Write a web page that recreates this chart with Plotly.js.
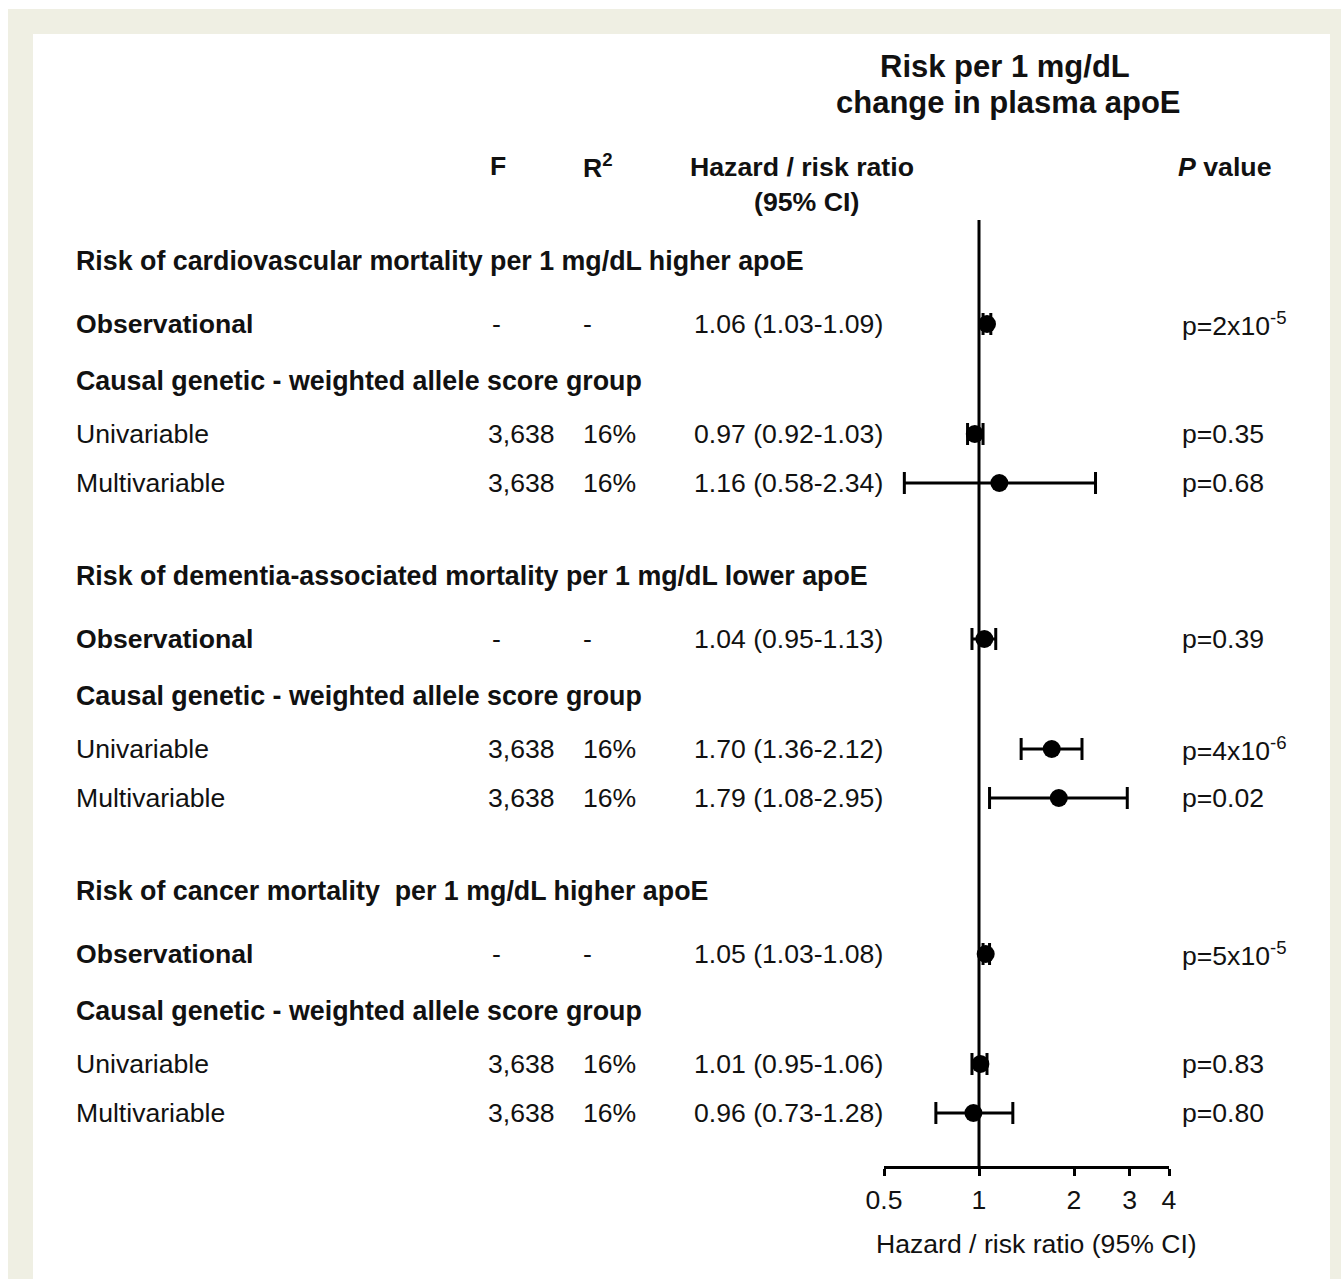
<!DOCTYPE html>
<html>
<head>
<meta charset="utf-8">
<script src="https://cdn.plot.ly/plotly-3.0.1.min.js"></script>
<style>html,body{margin:0;padding:0;background:#fff;}#chart{width:1341px;height:1279px;}</style>
</head>
<body>
<div id="chart"></div>
<script>
// ---------------- DATA ----------------
const sectionTitles = [
  "Risk of cardiovascular mortality per 1 mg/dL higher apoE",
  "Risk of dementia-associated mortality per 1 mg/dL lower apoE",
  "Risk of cancer mortality\u00a0 per 1 mg/dL higher apoE"
];
const subHeader = "Causal genetic - weighted allele score group";
const rowLabels = ["Observational", "Univariable", "Multivariable",
                   "Observational", "Univariable", "Multivariable",
                   "Observational", "Univariable", "Multivariable"];
const rowSection = [0, 0, 0, 1, 1, 1, 2, 2, 2];
const rowKind = ["obs", "uni", "multi", "obs", "uni", "multi", "obs", "uni", "multi"];
const fStat = ["-", "3,638", "3,638", "-", "3,638", "3,638", "-", "3,638", "3,638"];
const r2 = ["-", "16%", "16%", "-", "16%", "16%", "-", "16%", "16%"];
const estimate = [1.06, 0.97, 1.16, 1.04, 1.70, 1.79, 1.05, 1.01, 0.96];
const ciLower = [1.03, 0.92, 0.58, 0.95, 1.36, 1.08, 1.03, 0.95, 0.73];
const ciUpper = [1.09, 1.03, 2.34, 1.13, 2.12, 2.95, 1.08, 1.06, 1.28];
const pValue = ["p=2x10<sup>-5</sup>", "p=0.35", "p=0.68",
                "p=0.39", "p=4x10<sup>-6</sup>", "p=0.02",
                "p=5x10<sup>-5</sup>", "p=0.83", "p=0.80"];
const tickValues = [0.5, 1, 2, 3, 4];
const tickLabels = ["0.5", "1", "2", "3", "4"];
const titleLines = ["Risk per 1 mg/dL", "change in plasma apoE"];
const xAxisTitle = "Hazard / risk ratio (95% CI)";

// ---------------- LAYOUT ----------------
const W = 1341, H = 1279;
const px = p => p / W;          // paper x from pixel
const py = p => 1 - p / H;      // paper y from pixel
const sectionGap = 315;
const rowOffset = {header: 0, obs: 63, causal: 120, uni: 173, multi: 222};
const rowPos = (s, kind) => s * sectionGap + rowOffset[kind];
const FONT = "Liberation Sans, Arial, Helvetica, sans-serif";
const FS = 26.6;
const FS_HEAD = 26.8;
const TXT = "#111";
const col = {label: 76, f: 488, fDash: 492, r2: 583, hr: 694, p: 1182};

const yVals = estimate.map((_, i) => rowPos(rowSection[i], rowKind[i]));
const hrText = estimate.map((e, i) => e.toFixed(2) + " (" + ciLower[i].toFixed(2) + "-" + ciUpper[i].toFixed(2) + ")");

const trace = {
  type: "scatter", mode: "markers",
  x: estimate, y: yVals,
  marker: {color: "#000", size: 18, symbol: "circle"},
  error_x: {type: "data", symmetric: false,
    array: estimate.map((e, i) => ciUpper[i] - e),
    arrayminus: estimate.map((e, i) => e - ciLower[i]),
    color: "#000", thickness: 3, width: 11},
  hoverinfo: "skip", showlegend: false, cliponaxis: false
};

const ann = [];
function addText(text, xPix, yVal, opts) {
  ann.push(Object.assign({
    text: text, xref: "paper", x: px(xPix), yref: "y", y: yVal,
    xanchor: "left", yanchor: "middle", showarrow: false,
    borderpad: 0, borderwidth: 0,
    font: {family: FONT, size: FS, color: TXT}
  }, opts || {}));
}
sectionTitles.forEach((t, s) => {
  addText("<b>" + t + "</b>", col.label, rowPos(s, "header"), {font: {family: FONT, size: FS_HEAD, color: TXT}});
  addText("<b>" + subHeader + "</b>", col.label, rowPos(s, "causal"), {font: {family: FONT, size: FS_HEAD, color: TXT}});
});
rowLabels.forEach((lab, i) => {
  const y = yVals[i];
  addText(rowKind[i] === "obs" ? "<b>" + lab + "</b>" : lab, col.label, y);
  addText(fStat[i], fStat[i] === "-" ? col.fDash : col.f, y);
  addText(r2[i], col.r2, y);
  addText(hrText[i], col.hr, y);
  addText(pValue[i], col.p, y);
});
function addHead(text, xPix, yPix, size) {
  ann.push({text: text, xref: "paper", x: px(xPix), yref: "paper", y: py(yPix),
    xanchor: "center", yanchor: "middle", showarrow: false, align: "center",
    borderpad: 0, borderwidth: 0,
    font: {family: FONT, size: size || FS, color: TXT}});
}
addHead("<b>F</b>", 498, 166);
addHead("<b>R<sup>2</sup></b>", 598, 166);
addHead("<b>Hazard / risk ratio</b>", 802, 167, 26.7);
addHead("<b>(95% CI)</b>", 806, 202, 26.7);
addHead("<b><i>P</i> value</b>", 1224, 167, 26.7);
addHead("<b>" + titleLines[0] + "</b>", 1005, 67, 31);
addHead("<b>" + titleLines[1] + "</b>", 1008, 103, 31);
addHead(xAxisTitle, 1036, 1244);

const yTopPix = 220, yBotPix = 1166;
const firstRowPix = 261;
const layout = {
  width: W, height: H,
  margin: {l: 0, r: 0, t: 0, b: 0, pad: 0},
  paper_bgcolor: "#ffffff", plot_bgcolor: "rgba(0,0,0,0)",
  font: {family: FONT, size: FS, color: TXT},
  xaxis: {
    type: "log", range: [Math.log10(0.5), Math.log10(4)],
    domain: [px(884), px(1169)],
    showline: true, linewidth: 3, linecolor: "#000",
    ticks: "outside", ticklen: 7, tickwidth: 3, tickcolor: "#000",
    tickvals: tickValues, ticktext: tickLabels,
    tickfont: {family: FONT, size: FS, color: TXT},
    ticklabelstandoff: 1,
    showgrid: false, zeroline: false, fixedrange: true
  },
  yaxis: {
    range: [yBotPix - firstRowPix, yTopPix - firstRowPix],
    domain: [py(yBotPix), py(yTopPix)],
    visible: false, showgrid: false, zeroline: false, fixedrange: true
  },
  shapes: [
    {type: "rect", xref: "paper", yref: "paper", x0: px(8), x1: 1, y0: 0, y1: py(9),
     fillcolor: "#EFEFE3", line: {width: 0}, layer: "below"},
    {type: "rect", xref: "paper", yref: "paper", x0: px(33), x1: px(1330), y0: 0, y1: py(34),
     fillcolor: "#ffffff", line: {width: 0}, layer: "below"},
    {type: "line", xref: "x", yref: "paper", x0: 1, x1: 1, y0: py(yBotPix), y1: py(yTopPix),
     line: {color: "#000", width: 3}}
  ],
  annotations: ann
};

Plotly.newPlot("chart", [trace], layout, {displayModeBar: false, staticPlot: true});
</script>
</body>
</html>
